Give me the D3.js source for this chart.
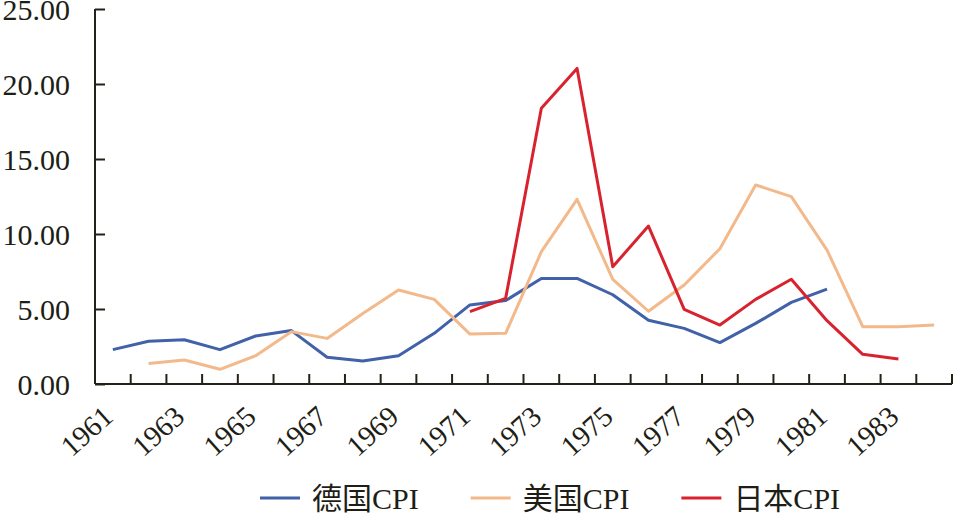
<!DOCTYPE html>
<html>
<head>
<meta charset="utf-8">
<script src="https://cdn.jsdelivr.net/npm/d3@7"></script>
<style>
  body { margin: 0; background: #fff; }
  svg text { font-family: "Liberation Serif", "Noto Sans CJK SC", serif; fill: #1e1e16; }
</style>
</head>
<body>
<div id="chart"></div>
<script>
// years on the category axis
var years = d3.range(1961, 1985);
var yearLabels = years.filter(function(y, i) { return i % 2 === 0; });
var yTicks = [0, 5, 10, 15, 20, 25];

// CPI (%), null = no value
var germany = [2.29, 2.85, 2.95, 2.29, 3.2, 3.56, 1.78, 1.53, 1.89, 3.38, 5.27, 5.56, 7.04, 7.04, 5.95, 4.25, 3.71, 2.76, 4.04, 5.44, 6.33, null, null, null];
var usa = [null, 1.36, 1.6, 0.98, 1.89, 3.49, 3.04, 4.7, 6.27, 5.64, 3.33, 3.38, 8.82, 12.31, 6.98, 4.85, 6.6, 9.02, 13.27, 12.49, 8.93, 3.82, 3.82, 3.93];
var japan = [null, null, null, null, null, null, null, null, null, null, 4.82, 5.71, 18.38, 21.04, 7.82, 10.53, 4.98, 3.93, 5.64, 6.98, 4.22, 1.98, 1.67, null];

var seriesNames = ["德国CPI", "美国CPI", "日本CPI"];
var seriesColors = ["#4161a8", "#f3b98a", "#d8232f"];
var seriesData = [germany, usa, japan];

var width = 954, height = 516;
var svg = d3.select("#chart").append("svg")
    .attr("width", width)
    .attr("height", height);

var x = d3.scaleBand().domain(years).range([95, 952]).padding(0);
var y = d3.scaleLinear().domain([0, 25]).range([384, 9]);

var axisColor = "#222218";

// y axis: ticks pointing inward
var yAxis = svg.append("g")
    .attr("transform", "translate(95,0)")
    .call(d3.axisRight(y).tickValues(yTicks).tickSize(10).tickFormat(""));
yAxis.select(".domain").attr("stroke", axisColor).attr("stroke-width", 2)
    .attr("d", "M0," + y(25) + "H0V" + y(0));
yAxis.selectAll(".tick line").attr("stroke", axisColor).attr("stroke-width", 2);

svg.selectAll(".ylab")
    .data(yTicks)
    .enter().append("text")
    .attr("class", "ylab")
    .attr("x", 70)
    .attr("y", function(d) { return y(d); })
    .attr("dy", "0.35em")
    .attr("text-anchor", "end")
    .style("font-size", "30px")
    .text(function(d) { return d3.format(".2f")(d); });

// x axis: ticks at band edges, inward
var edges = years.map(function(d) { return x(d) + x.bandwidth(); });
var xAxis = svg.append("g").attr("transform", "translate(0," + y(0) + ")");
xAxis.append("line")
    .attr("x1", 95).attr("x2", 952)
    .attr("stroke", axisColor).attr("stroke-width", 2);
xAxis.selectAll(".xt")
    .data(edges)
    .enter().append("line")
    .attr("x1", function(d) { return d; })
    .attr("x2", function(d) { return d; })
    .attr("y1", 0).attr("y2", -10)
    .attr("stroke", axisColor).attr("stroke-width", 2);

svg.selectAll(".xlab")
    .data(yearLabels)
    .enter().append("text")
    .attr("class", "xlab")
    .attr("text-anchor", "end")
    .attr("transform", function(d) {
        return "translate(" + (x(d) + x.bandwidth() / 2 + 2) + "," + (y(0) + 35) + ") rotate(-42)";
    })
    .style("font-size", "29px")
    .text(function(d) { return d; });

// lines
var line = d3.line()
    .defined(function(d) { return d.v !== null; })
    .x(function(d) { return x(d.year) + x.bandwidth() / 2; })
    .y(function(d) { return y(d.v); });

seriesData.forEach(function(vals, i) {
    var pts = years.map(function(yr, j) { return { year: yr, v: vals[j] }; });
    svg.append("path")
        .datum(pts)
        .attr("fill", "none")
        .attr("stroke", seriesColors[i])
        .attr("stroke-width", 3)
        .attr("stroke-linejoin", "round")
        .attr("d", line);
});

// legend
var lx = 260, ly = 498;
seriesNames.forEach(function(name, i) {
    var g = svg.append("g").attr("transform", "translate(" + lx + "," + ly + ")");
    g.append("line")
        .attr("x1", 0).attr("x2", 40)
        .attr("stroke", seriesColors[i]).attr("stroke-width", 3);
    var t = g.append("text")
        .attr("x", 52)
        .attr("dy", "0.35em")
        .style("font-size", "30px")
        .text(name);
    lx += 52 + t.node().getComputedTextLength() + 52;
});
</script>
</body>
</html>
